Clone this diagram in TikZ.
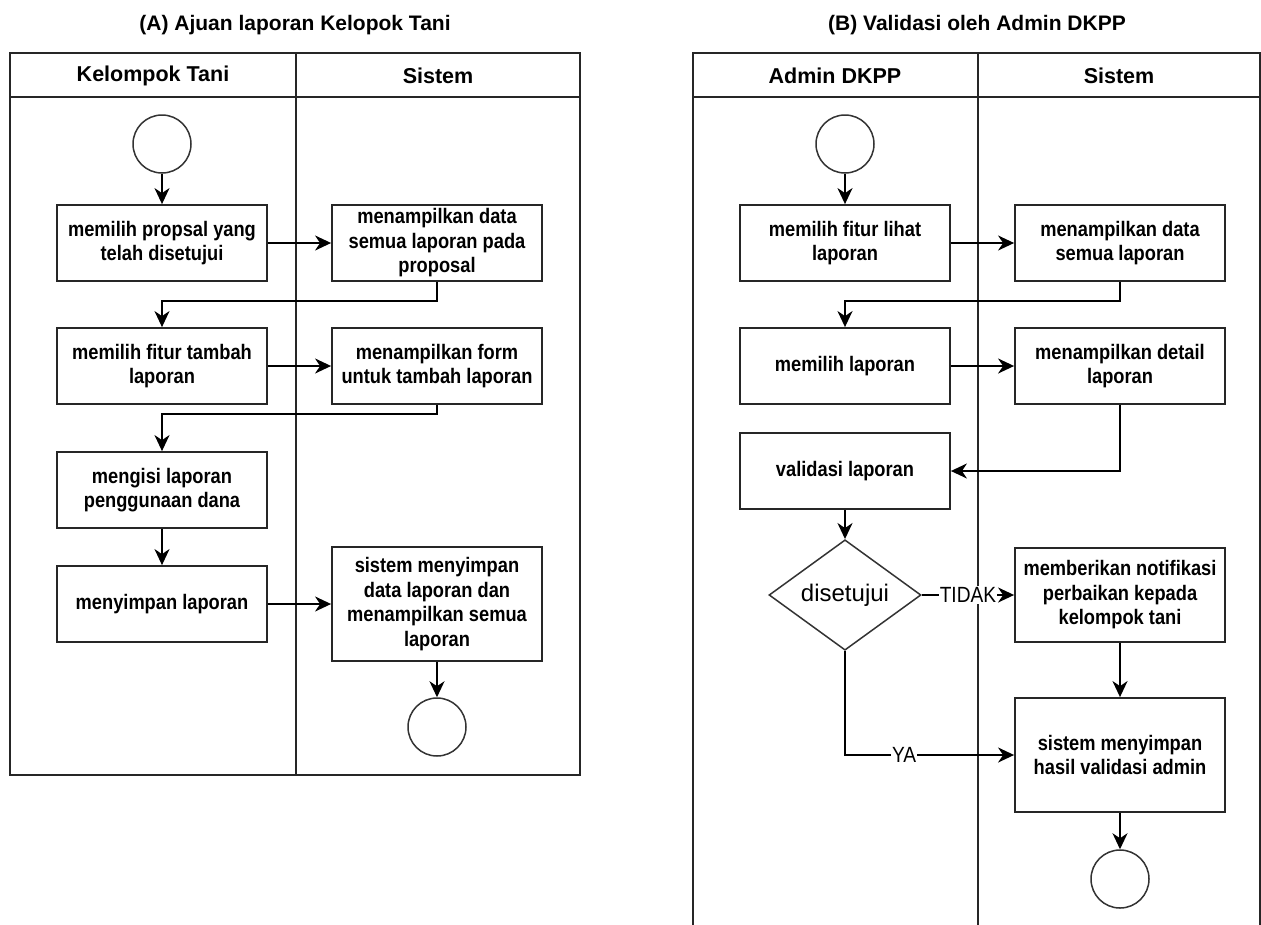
\documentclass[tikz,border=0pt]{standalone}
\usepackage{fontspec}
\setmainfont{Liberation Sans}
\newfontfamily\narrowsans[FakeStretch=0.87]{Liberation Sans}
\usetikzlibrary{arrows.meta,shapes.geometric}

\tikzset{
  lane/.style={draw=black!85, line width=2pt},
  paneltitle/.style={font=\bfseries\fontsize{21}{25}\selectfont},
  lanehead/.style={font=\bfseries\fontsize{21.5}{25}\selectfont},
  act/.style={draw=black!85, line width=1.8pt, minimum width=210pt,
    inner sep=0pt, align=center,
    font=\narrowsans\bfseries\fontsize{21}{24.5}\selectfont},
  terminal/.style={circle, draw=black!80, line width=1.5pt, minimum size=58pt, inner sep=0pt},
  decision/.style={diamond, draw=black!80, line width=1.5pt, minimum width=152pt,
    minimum height=94pt, inner sep=0pt, font=\fontsize{24}{28}\selectfont},
  flow/.style={line width=1.8pt, -{Stealth[length=16pt,width=15pt,inset=5pt]}},
  guard/.style={fill=white, inner sep=1pt, font=\narrowsans\fontsize{22}{26}\selectfont}
}

\begin{document}
\begin{tikzpicture}[x=1pt,y=-1pt]
\useasboundingbox (0,0) rectangle (1261,924);
\fill[white] (0,0) rectangle (1261,924);

% ---------- (A) swimlanes ----------
\node[paneltitle] (titleA) at (295,25) {(A) Ajuan laporan Kelopok Tani};
\draw[lane] (10,53) rectangle (580,775);
\draw[lane] (10,97) -- (580,97);
\draw[lane] (296,53) -- (296,775);
\node[lanehead] (hA1) at (153,76) {Kelompok Tani};
\node[lanehead] (hA2) at (438,76) {Sistem};

% ---------- (B) swimlanes ----------
\node[paneltitle] (titleB) at (977,25) {(B) Validasi oleh Admin DKPP};
\draw[lane] (693,940) -- (693,53) -- (1260,53) -- (1260,940);
\draw[lane] (693,97) -- (1260,97);
\draw[lane] (978,53) -- (978,940);
\node[lanehead] (hB1) at (835,76) {Admin DKPP};
\node[lanehead] (hB2) at (1119,76) {Sistem};

% ---------- (A) activities ----------
\node[terminal] (sA) at (162,144) {};
\node[act, minimum height=76pt] (a1) at (162,243) {memilih propsal yang\\telah disetujui};
\node[act, minimum height=76pt] (a2) at (437,243) {menampilkan data\\semua laporan pada\\proposal};
\node[act, minimum height=76pt] (a3) at (162,366) {memilih fitur tambah\\laporan};
\node[act, minimum height=76pt] (a4) at (437,366) {menampilkan form\\untuk tambah laporan};
\node[act, minimum height=76pt] (a5) at (162,490) {mengisi laporan\\penggunaan dana};
\node[act, minimum height=76pt] (a6) at (162,604) {menyimpan laporan};
\node[act, minimum height=114pt] (a7) at (437,604) {sistem menyimpan\\data laporan dan\\menampilkan semua\\laporan};
\node[terminal] (eA) at (437,727) {};

\draw[flow] (sA) -- (a1);
\draw[flow] (a1) -- (a2);
\draw[flow] (a2.south) -- ++(0,19) -| (a3.north);
\draw[flow] (a3) -- (a4);
\draw[flow] (a4.south) -- ++(0,9) -| (a5.north);
\draw[flow] (a5) -- (a6);
\draw[flow] (a6) -- (a7);
\draw[flow] (a7) -- (eA);

% ---------- (B) activities ----------
\node[terminal] (sB) at (845,144) {};
\node[act, minimum height=76pt] (b1) at (845,243) {memilih fitur lihat\\laporan};
\node[act, minimum height=76pt] (b2) at (1120,243) {menampilkan data\\semua laporan};
\node[act, minimum height=76pt] (b3) at (845,366) {memilih laporan};
\node[act, minimum height=76pt] (b4) at (1120,366) {menampilkan detail\\laporan};
\node[act, minimum height=76pt] (b5) at (845,471) {validasi laporan};
\node[decision] (dec) at (845,595) {disetujui};
\node[act, minimum height=94pt] (b6) at (1120,595) {memberikan notifikasi\\perbaikan kepada\\kelompok tani};
\node[act, minimum height=114pt] (b7) at (1120,755) {sistem menyimpan\\hasil validasi admin};
\node[terminal] (eB) at (1120,879) {};

\draw[flow] (sB) -- (b1);
\draw[flow] (b1) -- (b2);
\draw[flow] (b2.south) -- ++(0,19) -| (b3.north);
\draw[flow] (b3) -- (b4);
\draw[flow] (b4.south) |- (b5.east);
\draw[flow] (b5) -- (dec);
\draw[flow] (dec) -- node[guard] {TIDAK} (b6);
\draw[flow] (b6) -- (b7);
\draw[flow] (dec.south) |- node[guard, pos=0.675] {YA} (b7.west);
\draw[flow] (b7) -- (eB);
\end{tikzpicture}
\end{document}
